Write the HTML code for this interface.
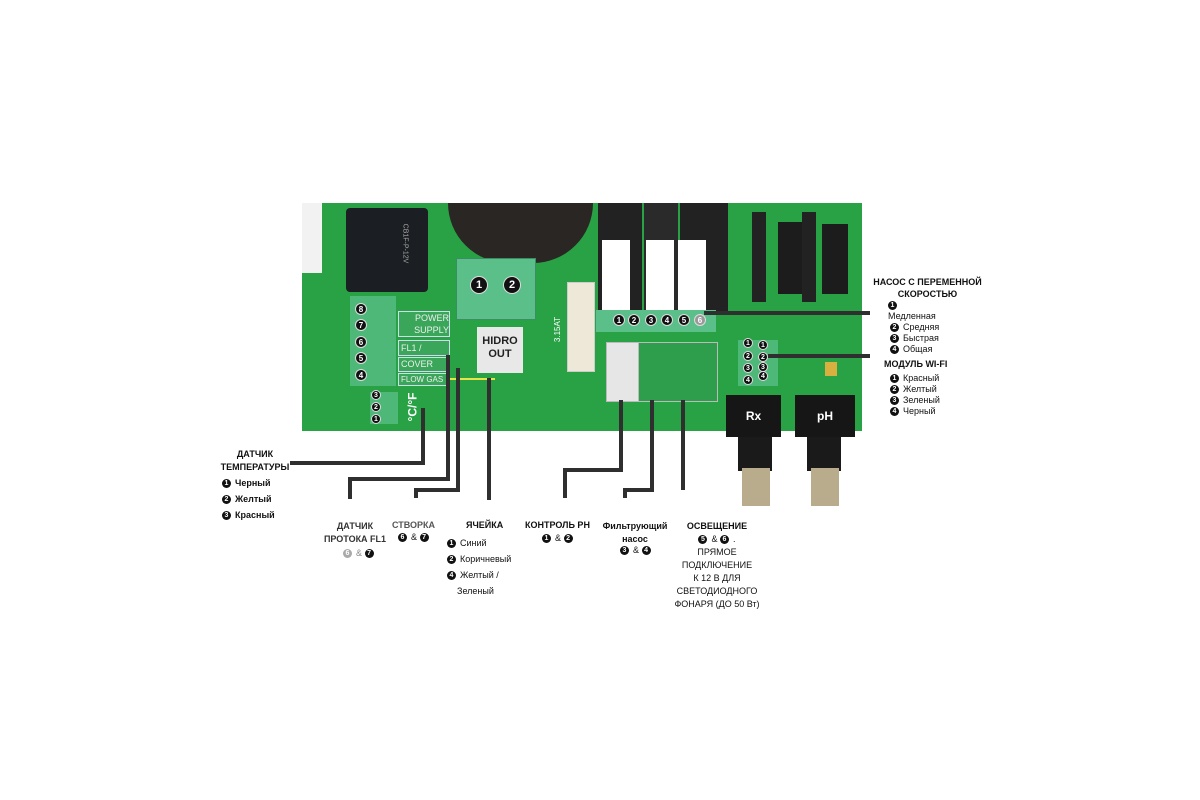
<!DOCTYPE html>
<html><head><meta charset="utf-8"><style>
body{margin:0;width:1200px;height:800px;background:#fff;position:relative;overflow:hidden;font-family:"Liberation Sans","DejaVu Sans",sans-serif}
div{position:absolute;box-sizing:border-box}
.b{background:#2f2f2f}
.c{width:12px;height:12px;border-radius:50%;background:#111;color:#fff;font-size:8px;font-weight:bold;text-align:center;line-height:12px;border:1px solid #ddd}
.t{font-size:9px;color:#111;white-space:nowrap}
.bt{font-weight:bold}
.n{display:inline-block;width:9px;height:9px;border-radius:50%;background:#111;color:#fff;font-size:7px;line-height:9px;text-align:center;font-weight:bold;margin-right:4px;vertical-align:middle}
.lab{background:#3aa65a;border:1px solid #cde;color:#eee;font-size:9px;padding-left:2px}
</style></head><body>
<!-- board -->
<div style="left:302px;top:203px;width:560px;height:228px;background:#29a245"></div>
<div style="left:302px;top:203px;width:20px;height:70px;background:#f2f2f2"></div>
<!-- relay -->
<div style="left:346px;top:208px;width:82px;height:84px;background:#1b1e22;border-radius:4px"></div>
<div class="t" style="left:385px;top:240px;color:#aaa;font-size:7px;transform:rotate(90deg)">CB1F-P-12V</div>
<!-- toroid -->
<div style="left:448px;top:203px;width:145px;height:60px;background:#2a2624;border-radius:0 0 70px 70px"></div>
<!-- green terminal -->
<div style="left:456px;top:258px;width:80px;height:62px;background:#5bbf8a;border:1px solid #3c8d63"></div>
<div class="c" style="left:470px;top:276px;width:18px;height:18px;line-height:16px;font-size:11px">1</div>
<div class="c" style="left:503px;top:276px;width:18px;height:18px;line-height:16px;font-size:11px">2</div>
<div style="left:477px;top:327px;width:46px;height:46px;background:#e8e8e8;font-weight:bold;font-size:11px;text-align:center;line-height:13px;padding-top:8px;color:#222">HIDRO<br>OUT</div>
<!-- fuse -->
<div style="left:567px;top:282px;width:28px;height:90px;background:#eee8d8;border:1px solid #ccc"></div>
<div class="t" style="left:545px;top:325px;color:#fff;transform:rotate(-90deg);font-size:8px">3.15AT</div>
<!-- relays right -->
<div style="left:598px;top:203px;width:44px;height:110px;background:#222"></div>
<div style="left:644px;top:203px;width:34px;height:110px;background:#2a2a2a"></div>
<div style="left:680px;top:203px;width:48px;height:110px;background:#222"></div>
<div style="left:602px;top:240px;width:28px;height:72px;background:#fff"></div>
<div style="left:646px;top:240px;width:28px;height:72px;background:#fff"></div>
<div style="left:678px;top:240px;width:28px;height:72px;background:#fff"></div>
<div style="left:596px;top:310px;width:120px;height:22px;background:#5bbf8a"></div>
<div class="c" style="left:613px;top:314px">1</div>
<div class="c" style="left:628px;top:314px">2</div>
<div class="c" style="left:645px;top:314px">3</div>
<div class="c" style="left:661px;top:314px">4</div>
<div class="c" style="left:678px;top:314px">5</div>
<div class="c" style="left:694px;top:314px;background:#999">6</div>
<div style="left:606px;top:342px;width:112px;height:60px;background:#e6e6e6;border:1px solid #bbb"></div>
<div style="left:638px;top:342px;width:80px;height:60px;background:#2f9e4c;border:1px solid #bbb"></div>
<!-- connectors at right -->
<div style="left:752px;top:212px;width:14px;height:90px;background:#222"></div>
<div style="left:778px;top:222px;width:24px;height:72px;background:#1c1c1c"></div>
<div style="left:802px;top:212px;width:14px;height:90px;background:#222"></div>
<div style="left:822px;top:224px;width:26px;height:70px;background:#1c1c1c"></div>
<div style="left:738px;top:340px;width:40px;height:46px;background:#4db878"></div>
<div class="c" style="left:743px;top:338px;width:10px;height:10px;line-height:9px;font-size:7px">1</div>
<div class="c" style="left:743px;top:351px;width:10px;height:10px;line-height:9px;font-size:7px">2</div>
<div class="c" style="left:743px;top:363px;width:10px;height:10px;line-height:9px;font-size:7px">3</div>
<div class="c" style="left:743px;top:375px;width:10px;height:10px;line-height:9px;font-size:7px">4</div>
<div class="c" style="left:758px;top:340px;width:10px;height:10px;line-height:9px;font-size:7px">1</div>
<div class="c" style="left:758px;top:352px;width:10px;height:10px;line-height:9px;font-size:7px">2</div>
<div class="c" style="left:758px;top:362px;width:10px;height:10px;line-height:9px;font-size:7px">3</div>
<div class="c" style="left:758px;top:371px;width:10px;height:10px;line-height:9px;font-size:7px">4</div>
<div style="left:825px;top:362px;width:12px;height:14px;background:#d8b040"></div>
<!-- Rx pH -->
<div style="left:738px;top:435px;width:34px;height:36px;background:#1a1a1a"></div>
<div style="left:742px;top:468px;width:28px;height:38px;background:#b9ac8c"></div>
<div style="left:726px;top:395px;width:55px;height:42px;background:#161616;color:#fff;font-weight:bold;font-size:12px;text-align:center;line-height:42px">Rx</div>
<div style="left:807px;top:435px;width:34px;height:36px;background:#1a1a1a"></div>
<div style="left:811px;top:468px;width:28px;height:38px;background:#b9ac8c"></div>
<div style="left:795px;top:395px;width:60px;height:42px;background:#161616;color:#fff;font-weight:bold;font-size:12px;text-align:center;line-height:42px">pH</div>
<!-- left terminal -->
<div style="left:350px;top:296px;width:46px;height:90px;background:#4db878"></div>
<div class="c" style="left:355px;top:303px">8</div>
<div class="c" style="left:355px;top:319px">7</div>
<div class="c" style="left:355px;top:336px">6</div>
<div class="c" style="left:355px;top:352px">5</div>
<div class="c" style="left:355px;top:369px">4</div>
<div class="lab" style="left:398px;top:311px;width:52px;height:26px;line-height:12px;text-align:right">POWER<br>SUPPLY</div>
<div class="lab" style="left:398px;top:340px;width:52px;height:16px;line-height:14px">FL1 /</div>
<div class="lab" style="left:398px;top:357px;width:52px;height:15px;line-height:13px">COVER</div>
<div class="lab" style="left:398px;top:373px;width:52px;height:13px;line-height:11px;font-size:8px">FLOW GAS</div>
<div style="left:450px;top:378px;width:45px;height:2px;background:#e5e54a"></div>
<div style="left:370px;top:392px;width:28px;height:32px;background:#4db878"></div>
<div class="c" style="left:371px;top:390px;width:10px;height:10px;line-height:9px;font-size:7px">3</div>
<div class="c" style="left:371px;top:402px;width:10px;height:10px;line-height:9px;font-size:7px">2</div>
<div class="c" style="left:371px;top:414px;width:10px;height:10px;line-height:9px;font-size:7px">1</div>
<div class="t" style="left:398px;top:400px;color:#fff;font-weight:bold;font-size:12px;transform:rotate(-90deg)">°C/°F</div>
<!-- connector lines -->
<div class="b" style="left:290px;top:461px;width:135px;height:4px"></div>
<div class="b" style="left:421px;top:408px;width:4px;height:57px"></div>
<div class="b" style="left:348px;top:477px;width:4px;height:22px"></div>
<div class="b" style="left:348px;top:477px;width:102px;height:4px"></div>
<div class="b" style="left:446px;top:355px;width:4px;height:126px"></div>
<div class="b" style="left:414px;top:488px;width:4px;height:10px"></div>
<div class="b" style="left:414px;top:488px;width:46px;height:4px"></div>
<div class="b" style="left:456px;top:368px;width:4px;height:124px"></div>
<div class="b" style="left:487px;top:378px;width:4px;height:122px"></div>
<div class="b" style="left:563px;top:468px;width:4px;height:30px"></div>
<div class="b" style="left:563px;top:468px;width:60px;height:4px"></div>
<div class="b" style="left:619px;top:400px;width:4px;height:72px"></div>
<div class="b" style="left:623px;top:488px;width:4px;height:10px"></div>
<div class="b" style="left:623px;top:488px;width:31px;height:4px"></div>
<div class="b" style="left:650px;top:400px;width:4px;height:92px"></div>
<div class="b" style="left:681px;top:400px;width:4px;height:90px"></div>
<div class="b" style="left:704px;top:311px;width:166px;height:4px"></div>
<div class="b" style="left:768px;top:354px;width:102px;height:4px"></div>
<!-- labels -->
<div class="t bt" style="left:205px;top:448px;width:100px;text-align:center;line-height:13px">ДАТЧИК<br>ТЕМПЕРАТУРЫ</div>
<div class="t bt" style="left:222px;top:475px;line-height:16px"><span class="n">1</span>Черный<br><span class="n">2</span>Желтый<br><span class="n">3</span>Красный</div>
<div class="t bt" style="left:315px;top:520px;width:80px;text-align:center;line-height:13px;color:#333">ДАТЧИК<br>ПРОТОКА FL1</div>
<div class="t" style="left:343px;top:548px;color:#888"><span class="n" style="background:#aaa">6</span>&amp; <span class="n">7</span></div>
<div class="t bt" style="left:392px;top:520px;color:#555">СТВОРКА</div>
<div class="t" style="left:398px;top:532px"><span class="n">6</span>&amp; <span class="n">7</span></div>
<div class="t bt" style="left:466px;top:520px">ЯЧЕЙКА</div>
<div class="t" style="left:447px;top:535px;line-height:16px"><span class="n">1</span>Синий<br><span class="n">2</span>Коричневый<br><span class="n">4</span>Желтый /<br>&nbsp;&nbsp;&nbsp;&nbsp;Зеленый</div>
<div class="t bt" style="left:525px;top:520px">КОНТРОЛЬ PH</div>
<div class="t" style="left:542px;top:533px"><span class="n">1</span>&amp; <span class="n">2</span></div>
<div class="t bt" style="left:600px;top:520px;width:70px;text-align:center;line-height:13px">Фильтрующий<br>насос</div>
<div class="t" style="left:620px;top:545px"><span class="n">3</span>&amp; <span class="n">4</span></div>
<div class="t" style="left:667px;top:520px;width:100px;text-align:center;line-height:13px"><b>ОСВЕЩЕНИЕ</b><br><span class="n">5</span>&amp; <span class="n">6</span>.<br>ПРЯМОЕ<br>ПОДКЛЮЧЕНИЕ<br>К 12 В ДЛЯ<br>СВЕТОДИОДНОГО<br>ФОНАРЯ (ДО 50 Вт)</div>
<div class="t bt" style="left:870px;top:276px;width:115px;text-align:center;line-height:12px">НАСОС С ПЕРЕМЕННОЙ<br>СКОРОСТЬЮ</div>
<div class="t" style="left:888px;top:300px;line-height:11px"><span class="n">1</span><br>Медленная</div>
<div class="t" style="left:890px;top:322px;line-height:11px"><span class="n">2</span>Средняя<br><span class="n">3</span>Быстрая<br><span class="n">4</span>Общая</div>
<div class="t bt" style="left:884px;top:359px">МОДУЛЬ WI-FI</div>
<div class="t" style="left:890px;top:373px;line-height:11px"><span class="n">1</span>Красный<br><span class="n">2</span>Желтый<br><span class="n">3</span>Зеленый<br><span class="n">4</span>Черный</div>
</body></html>
